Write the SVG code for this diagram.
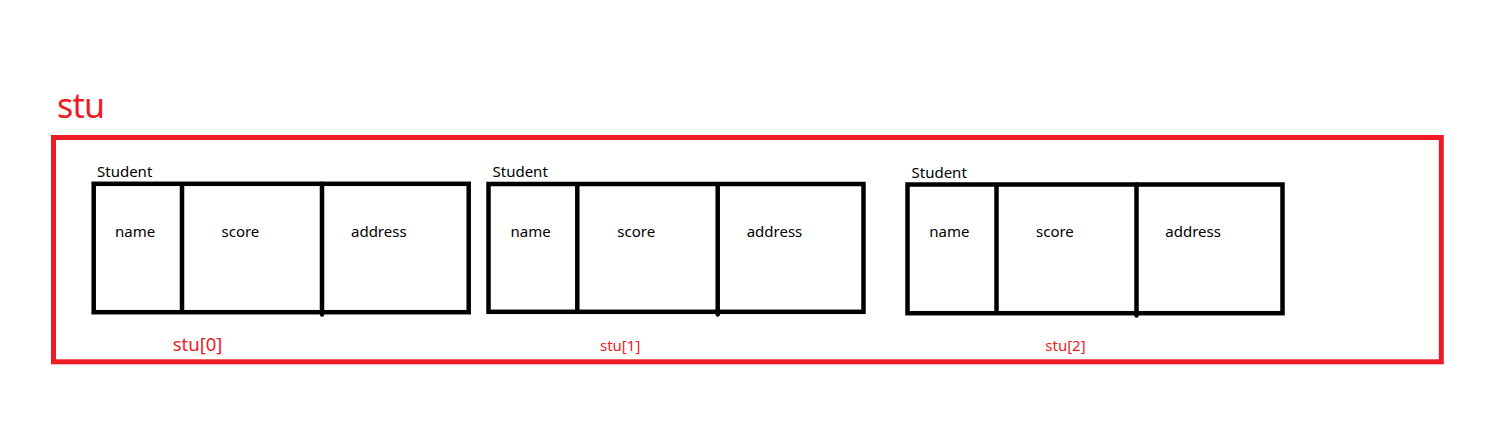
<svg xmlns="http://www.w3.org/2000/svg" width="1508" height="431" viewBox="0 0 1508 431">
<style>
.frame{fill:none;stroke:#ED1C24;stroke-width:5}
.box{fill:none;stroke:#000;stroke-width:4.5}
.div{stroke:#000;stroke-width:4.5}
.nub{stroke:#000;stroke-width:4.5;stroke-linecap:round}
.lbl{font-family:"Noto Sans","Open Sans","DejaVu Sans",sans-serif;font-size:15px;fill:#000}
.red{font-family:"Noto Sans","Open Sans","DejaVu Sans",sans-serif;fill:#ED1C24}
</style>
<rect width="1508" height="431" fill="#fff"/>
<g id="stu">
<rect class="frame" x="53.5" y="137.5" width="1387.8" height="224.3"/>
<text class="red" x="57" y="118.3" font-size="34" textLength="48">stu</text>
</g>
<g id="student0">
<text class="lbl" x="97" y="177">Student</text>
<rect class="box" x="93.7" y="183.8" width="375" height="128.4"/>
<line class="div" x1="182" y1="183.8" x2="182" y2="312.2"/>
<line class="nub" x1="322" y1="183.8" x2="322" y2="314.5"/>
<text class="lbl" x="115" y="236.5">name</text>
<text class="lbl" x="221.5" y="236.5">score</text>
<text class="lbl" x="351" y="236.5">address</text>
<text class="red" x="172.7" y="350.7" font-size="18.5">stu[0]</text>
</g>
<g id="student1">
<text class="lbl" x="492.5" y="177">Student</text>
<rect class="box" x="488.5" y="184" width="375" height="127.8"/>
<line class="div" x1="577.3" y1="184" x2="577.3" y2="311.8"/>
<line class="nub" x1="717.7" y1="184" x2="717.7" y2="314.5"/>
<text class="lbl" x="510.5" y="236.5">name</text>
<text class="lbl" x="617.3" y="236.5">score</text>
<text class="lbl" x="746.7" y="236.5">address</text>
<text class="red" x="600" y="350.7" font-size="15">stu[1]</text>
</g>
<g id="student2">
<text class="lbl" x="911.5" y="178">Student</text>
<rect class="box" x="907.5" y="184.5" width="375" height="128.7"/>
<line class="div" x1="996.5" y1="184.5" x2="996.5" y2="313.2"/>
<line class="nub" x1="1136.5" y1="184.5" x2="1136.5" y2="315.5"/>
<text class="lbl" x="929.3" y="237">name</text>
<text class="lbl" x="1036" y="237">score</text>
<text class="lbl" x="1165.3" y="237">address</text>
<text class="red" x="1045.3" y="350.7" font-size="15">stu[2]</text>
</g>
<g id="connectors"></g>
</svg>
